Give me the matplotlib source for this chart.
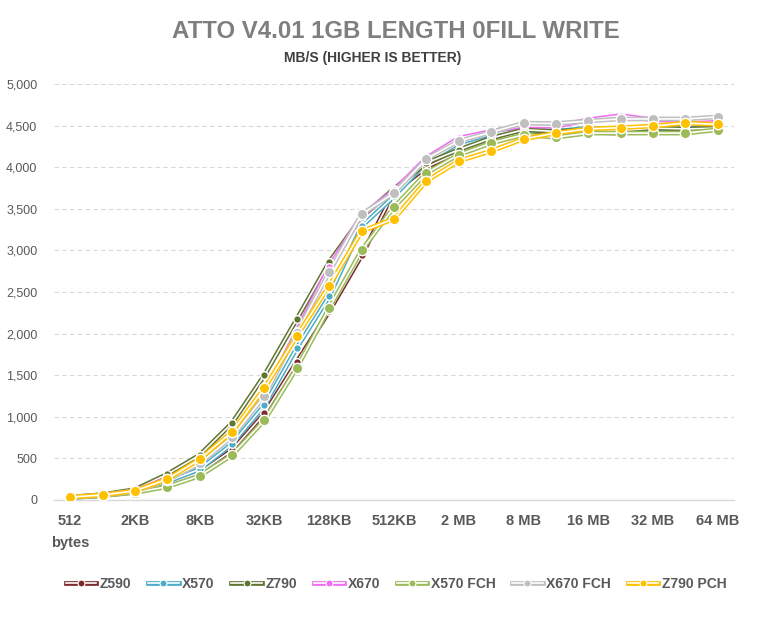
#!/usr/bin/env python3
"""ATTO v4.01 1GB length 0fill write chart."""

import matplotlib

matplotlib.use("Agg")
import matplotlib.pyplot as plt
from matplotlib.legend_handler import HandlerTuple
from matplotlib.lines import Line2D
from matplotlib.ticker import FuncFormatter, MultipleLocator

SIZES = ["512\nbytes", "1KB", "2KB", "4KB", "8KB", "16KB", "32KB", "64KB", "128KB",
         "256KB", "512KB", "1 MB", "2 MB", "4 MB", "8 MB", "12 MB", "16 MB", "24 MB",
         "32 MB", "48 MB", "64 MB"]

Z590 = [30, 55, 95, 190, 330, 600, 1040, 1660, 2270, 2940, 3700, 4000, 4180, 4330,
        4420, 4420, 4420, 4410, 4440, 4430, 4480]
X570 = [30, 58, 100, 220, 370, 675, 1140, 1830, 2450, 3290, 3650, 4060, 4290, 4400,
        4450, 4430, 4470, 4450, 4460, 4460, 4500]
Z790 = [35, 65, 125, 310, 540, 925, 1500, 2175, 2860, 3400, 3740, 4050, 4210, 4350,
        4450, 4430, 4450, 4440, 4470, 4460, 4470]
X670 = [32, 60, 110, 260, 440, 780, 1270, 2030, 2800, 3420, 3720, 4110, 4350, 4430,
        4500, 4490, 4570, 4620, 4570, 4560, 4580]
X570_FCH = [28, 52, 90, 160, 290, 540, 960, 1590, 2310, 3000, 3520, 3930, 4150, 4290,
            4390, 4360, 4410, 4410, 4410, 4410, 4450]
X670_FCH = [32, 58, 105, 240, 440, 760, 1250, 2010, 2740, 3435, 3690, 4100, 4315, 4420,
            4530, 4525, 4555, 4580, 4580, 4580, 4605]
Z790_PCH = [35, 60, 110, 250, 490, 820, 1345, 1970, 2575, 3230, 3380, 3835, 4075, 4195,
            4340, 4410, 4460, 4475, 4495, 4530, 4515]

SERIES = [
    ("Z590", Z590, "#7B2C2A", 5.5),
    ("X570", X570, "#4BACC6", 5.5),
    ("Z790", Z790, "#5F7530", 5.5),
    ("X670", X670, "#F26BF2", 5.5),
    ("X570 FCH", X570_FCH, "#9BBB59", 7.5),
    ("X670 FCH", X670_FCH, "#BFBFBF", 7.5),
    ("Z790 PCH", Z790_PCH, "#FFC000", 7.5),
]

TEXT = "#595959"
FONT = ["Liberation Sans", "DejaVu Sans"]

fig = plt.figure(figsize=(7.73, 6.17), dpi=100)
ax = fig.add_axes([54 / 773, 1 - 500 / 617, 680 / 773, 416 / 617])

x = list(range(len(SIZES)))
handles = []
for name, values, color, ms in SERIES:
    ax.plot(x, values, color=color, lw=3.4, zorder=2)
    ax.plot(x, values, color="white", lw=1.2, zorder=2)
    ax.plot(x, values, ls="none", marker="o", ms=ms, mfc=color, mec="white",
            mew=1.0, zorder=3)
    handles.append((
        Line2D([], [], color=color, lw=3.4),
        Line2D([], [], color="white", lw=1.2),
        Line2D([], [], ls="none", marker="o", ms=5, mfc=color, mec="white", mew=0.8),
    ))

ax.set_xlim(-0.5, len(SIZES) - 0.5)
ax.set_ylim(0, 5000)
ax.yaxis.set_major_locator(MultipleLocator(500))
ax.yaxis.set_major_formatter(FuncFormatter(lambda v, _: f"{int(v):,}"))
ax.grid(axis="y", color="#D9D9D9", lw=0.8, ls=(0, (4, 3)))
ax.set_axisbelow(True)

ax.set_xticks(x[::2], [SIZES[i] for i in x[::2]])
ax.tick_params(axis="x", length=0, pad=10, labelcolor=TEXT)
ax.tick_params(axis="y", length=0, pad=12, labelcolor=TEXT, labelsize=9)
for label in ax.get_xticklabels():
    label.set_fontfamily(FONT)
    label.set_fontweight("bold")
    label.set_fontsize(10.5)
    label.set_linespacing(1.7)
for label in ax.get_yticklabels():
    label.set_fontfamily(FONT)

for side in ("top", "right", "left"):
    ax.spines[side].set_visible(False)
ax.spines["bottom"].set_color("#D9D9D9")
ax.spines["bottom"].set_linewidth(1.0)

fig.text(396 / 773, 1 - 32 / 617, "ATTO V4.01 1GB LENGTH 0FILL WRITE", ha="center",
         va="center", color="#7F7F7F", fontsize=17.3, fontweight="bold",
         fontfamily=FONT)
fig.text(373 / 773, 1 - 58 / 617, "MB/S (HIGHER IS BETTER)", ha="center", va="center",
         color="#404040", fontsize=10, fontweight="bold", fontfamily=FONT)

fig.legend(handles, [s[0] for s in SERIES], handler_map={tuple: HandlerTuple(ndivide=1)},
           loc="center", bbox_to_anchor=(396 / 773, 1 - 584 / 617), ncol=7, frameon=False,
           handlelength=2.2, handletextpad=0.25, columnspacing=1.2,
           prop={"family": FONT, "weight": "bold", "size": 10}, labelcolor=TEXT)

fig.savefig("out.png", dpi=100)
